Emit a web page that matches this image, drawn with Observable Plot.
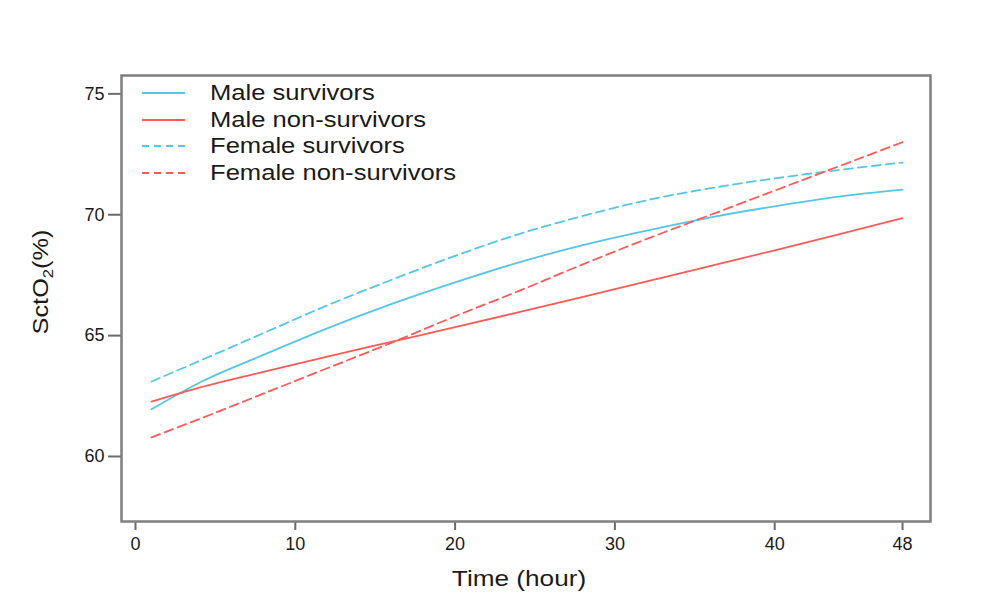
<!DOCTYPE html>
<html>
<head>
<meta charset="utf-8">
<script src="https://cdn.jsdelivr.net/npm/d3@7"></script>
<script src="https://cdn.jsdelivr.net/npm/@observablehq/plot@0.6"></script>
<style>
  html, body { margin: 0; padding: 0; background: #fff; }
  #wrap { position: relative; width: 986px; height: 594px; font-family: "Liberation Sans", Arial, sans-serif; }
  #legend { position: absolute; left: 142px; top: 80px; }
  .row { display: flex; align-items: center; height: 26.5px; }
  .row svg { margin-right: 25px; }
  .row span { font-size: 21.5px; line-height: 26.5px; color: #1a1a1a; display: inline-block; transform: scaleX(1.19); transform-origin: left center; white-space: nowrap; }
</style>
</head>
<body>
<div id="wrap"></div>
<script>
// ---- data ----
const hours = [1, 4, 8, 12, 16, 20, 24, 28, 32, 36, 40, 44, 48];
const maleSurvivors    = [61.95, 63.05, 64.2, 65.3, 66.3, 67.2, 68.03, 68.74, 69.34, 69.89, 70.35, 70.75, 71.04];
const maleNonSurvivors = [62.27, 62.85, 63.5, 64.13, 64.74, 65.35, 65.97, 66.6, 67.24, 67.88, 68.53, 69.19, 69.86];
const femaleSurvivors  = [63.1, 63.95, 65.1, 66.25, 67.3, 68.3, 69.2, 69.95, 70.6, 71.1, 71.5, 71.85, 72.16];
const femaleNonSurvivors = [60.79, 61.55, 62.6, 63.65, 64.7, 65.8, 66.85, 67.95, 69.0, 70.0, 71.0, 72.0, 73.0];
const seriesNames = ["Male survivors", "Male non-survivors", "Female survivors", "Female non-survivors"];
const xTicks = [0, 10, 20, 30, 40, 48];
const yTicks = [60, 65, 70, 75];

const BLUE = "#55c6e6";
const RED = "#ff5a5a";

const seriesDefs = [
  {name: seriesNames[0], values: maleSurvivors, sex: "Male", outcome: "survivors"},
  {name: seriesNames[1], values: maleNonSurvivors, sex: "Male", outcome: "non-survivors"},
  {name: seriesNames[2], values: femaleSurvivors, sex: "Female", outcome: "survivors"},
  {name: seriesNames[3], values: femaleNonSurvivors, sex: "Female", outcome: "non-survivors"}
];
const rows = seriesDefs.flatMap(s => hours.map((h, i) => ({hour: h, value: s.values[i], series: s.name, sex: s.sex, outcome: s.outcome})));

const lineOpts = {x: "hour", y: "value", z: "series", stroke: "outcome", strokeWidth: 1.8, curve: "monotone-x"};

const chart = Plot.plot({
  width: 986,
  height: 594,
  marginLeft: 121,
  marginRight: 56,
  marginTop: 75,
  marginBottom: 73,
  style: {fontFamily: "'Liberation Sans', Arial, sans-serif", fontSize: "18px", background: "white", color: "#1a1a1a"},
  x: {domain: [-0.876, 49.75]},
  y: {domain: [57.31, 75.76]},
  color: {domain: ["survivors", "non-survivors"], range: [BLUE, RED]},
  marks: [
    Plot.axisY({ticks: yTicks, tickSize: 13, tickPadding: 4, stroke: "#6b6b6b", strokeWidth: 2, fill: "#1a1a1a", fontSize: 18, label: null}),
    Plot.axisX({ticks: xTicks, tickSize: 9, tickPadding: 7, stroke: "#6b6b6b", strokeWidth: 2, fill: "#1a1a1a", fontSize: 18, label: null}),
    Plot.line(rows.filter(d => d.sex === "Male"), lineOpts),
    Plot.line(rows.filter(d => d.sex === "Female"), {...lineOpts, strokeDasharray: "9,5"}),
    Plot.frame({stroke: "#7f7f7f", strokeWidth: 2.5})
  ]
});

document.getElementById("wrap").appendChild(chart);

// axis titles
const svg = d3.select(chart);
svg.append("text")
  .attr("transform", "translate(519,580) scale(1.19,1)")
  .attr("text-anchor", "middle")
  .attr("dominant-baseline", "middle")
  .attr("font-size", 22)
  .attr("fill", "#1a1a1a")
  .text("Time (hour)");

const yl = svg.append("text")
  .attr("transform", "translate(48,282) rotate(-90) scale(1.15,1)")
  .attr("text-anchor", "middle")
  .attr("font-size", 22)
  .attr("fill", "#1a1a1a");
yl.append("tspan").text("SctO");
yl.append("tspan").attr("dy", 5).attr("font-size", 14.5).text("2");
yl.append("tspan").attr("dy", -5).text("(%)");

// legend
const legend = d3.select("#wrap").append("div").attr("id", "legend");
seriesDefs.forEach(s => {
  const r = legend.append("div").attr("class", "row");
  const sw = r.append("svg").attr("width", 43).attr("height", 4);
  sw.append("line").attr("x1", 0).attr("x2", 43).attr("y1", 2).attr("y2", 2)
    .attr("stroke", s.outcome === "survivors" ? BLUE : RED)
    .attr("stroke-width", 1.8)
    .attr("stroke-dasharray", s.sex === "Female" ? "7,5" : null);
  r.append("span").text(s.name);
});
</script>
</body>
</html>
